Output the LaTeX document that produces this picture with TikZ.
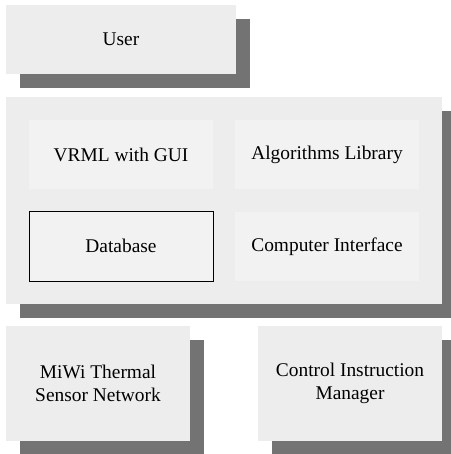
\documentclass[tikz,border=0pt]{standalone}
\usepackage{fontspec}
\setmainfont{Liberation Serif}
\newfontfamily\diagfont{Liberation Serif}
\begin{document}
\begin{tikzpicture}[x=1pt,y=-1pt,
  box/.style={fill=boxgray,draw=none,inner sep=0pt,align=center,font=\diagfont\fontsize{19.4}{23.3}\selectfont},
  inbox/.style={fill=ingray,draw=none,inner sep=0pt,align=center,font=\diagfont\fontsize{19.4}{23.3}\selectfont},
  shadowfill/.style={fill=shadowgray,draw=none}]
\definecolor{boxgray}{HTML}{EDEDED}
\definecolor{ingray}{HTML}{F2F2F2}
\definecolor{shadowgray}{HTML}{737373}
\useasboundingbox (0,0) rectangle (450,454);
% shadows
\fill[shadowfill] (20,19) rectangle (250,88);
\fill[shadowfill] (20,111) rectangle (456,318);
\fill[shadowfill] (20,340) rectangle (204,455);
\fill[shadowfill] (272,340) rectangle (456,455);
% boxes
\node[box,minimum width=230pt,minimum height=69pt] (user) at (121,39.5) {User};
\node[box,minimum width=436pt,minimum height=207pt] (main) at (224,200.5) {};
\node[inbox,minimum width=184pt,minimum height=69pt] (vrml) at (121,154.5) {VRML with GUI};
\node[inbox,minimum width=184pt,minimum height=69pt] (alg) at (327,154.5) {Algorithms Library};
\node[inbox,draw=black,line width=0.8pt,minimum width=184pt,minimum height=70pt] (db) at (121,246) {Database};
\node[inbox,minimum width=184pt,minimum height=69pt] (ci) at (327,246.5) {Computer Interface};
\node[box,minimum width=184pt,minimum height=115pt] (miwi) at (98,383.5) {MiWi Thermal\\Sensor Network};
\node[box,minimum width=184pt,minimum height=115pt] (cim) at (350,383.5) {Control Instruction\\Manager};
\end{tikzpicture}
\end{document}
